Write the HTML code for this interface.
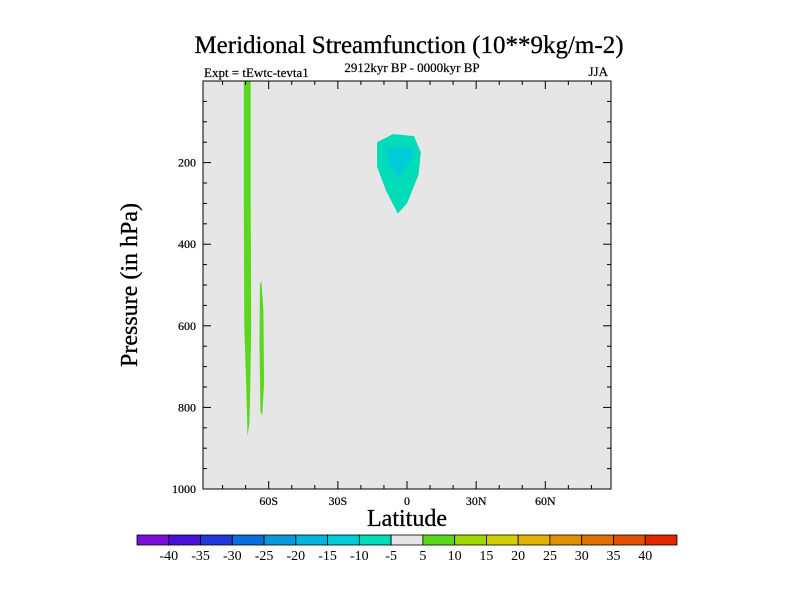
<!DOCTYPE html>
<html><head><meta charset="utf-8"><style>
body{margin:0;background:#fff}
svg{display:block;font-family:"Liberation Serif",serif}
</style></head><body>
<svg id="c" width="800" height="600" xmlns="http://www.w3.org/2000/svg">
<text x="409" y="53" font-size="25" text-anchor="middle" stroke="#000" stroke-width="0.3">Meridional Streamfunction (10**9kg/m-2)</text>
<text x="204" y="77" font-size="13" stroke="#000" stroke-width="0.2">Expt = tEwtc-tevta1</text>
<text x="412" y="72" font-size="13" text-anchor="middle" stroke="#000" stroke-width="0.2">2912kyr BP - 0000kyr BP</text>
<text x="608" y="76" font-size="13" text-anchor="end" stroke="#000" stroke-width="0.2">JJA</text>
<rect x="203" y="81" width="408" height="408" fill="#e6e6e6"/>
<g id="fills"></g>
<g id="axes"></g>
<text x="407" y="526" font-size="24" text-anchor="middle" stroke="#000" stroke-width="0.3">Latitude</text>
<text transform="translate(137,285) rotate(-90)" font-size="24" text-anchor="middle" stroke="#000" stroke-width="0.3">Pressure (in hPa)</text>
<g id="cbar"></g>
</svg>
<script>
const latMin=-88.5, latMax=88.5, pTop=0, pBot=1000;
const xTickVals=[-60,-30,0,30,60];
const xTickLabels=["60S","30S","0","30N","60N"];
const yTickVals=[200,400,600,800,1000];
const yTickLabels=["200","400","600","800","1000"];
const levels=["-40","-35","-30","-25","-20","-15","-10","-5","5","10","15","20","25","30","35","40"];
const levelColors=["#7a0fd8","#4a0fd8","#1f3ad8","#0a6edc","#0a98dc","#00b4dc","#00ccd8","#00dcb8","#e6e6e6","#5ad81e","#a0d800","#d0d000","#e0b400","#e09000","#e07000","#e05000","#e02800"];
// contour regions: [lat, pressure] vertices
const stripe1Lat=[-70.8,-67.8,-67.8,-67.6,-68.0,-68.4,-69.2,-69.4,-69.8,-70.6,-70.8];
const stripe1P=[0,0,300,600,760,840,870,820,740,600,300];
const stripe2Lat=[-63.8,-63.2,-62.3,-62.0,-62.8,-63.6,-64.0];
const stripe2P=[500,490,560,740,820,810,640];
const blobOuterLat=[-13,-6,3,6,5,0,-4,-9,-13,-13];
const blobOuterP=[150,130,135,175,230,300,325,270,210,175];
const blobInnerLat=[-9.6,3.4,1.5,-3.5,-7.5];
const blobInnerP=[162,165,195,238,205];
const X=v=>203+(v-latMin)/(latMax-latMin)*408;
const Y=v=>81+(v-pTop)/(pBot-pTop)*408;
const NS="http://www.w3.org/2000/svg";
function el(t,a,p){const e=document.createElementNS(NS,t);for(const k in a)e.setAttribute(k,a[k]);p.appendChild(e);return e;}
const fills=document.getElementById('fills');
function poly(la,pr,col,name){const pts=la.map((v,i)=>X(v)+","+Y(pr[i])).join(" ");
const e=el('polygon',{points:pts,fill:col},fills);

}
poly(stripe1Lat,stripe1P,"#5ad81e","contour-stripe-70s");
poly(stripe2Lat,stripe2P,"#5ad81e","contour-stripe-63s");
poly(blobOuterLat,blobOuterP,"#00dcb8","contour-blob-outer");
poly(blobInnerLat,blobInnerP,"#00ccd8","contour-blob-inner");
const ax=document.getElementById('axes');
const fr=el('rect',{x:203,y:81,width:408,height:408,fill:'none',stroke:'#000','stroke-width':1},ax);


for(let v=-80;v<=80;v+=10){const maj=v%30===0;const x=X(v);
el('line',{x1:x,x2:x,y1:489,y2:489-(maj?8:4),stroke:'#000'},ax);
el('line',{x1:x,x2:x,y1:81,y2:81+(maj?8:4),stroke:'#000'},ax);}
for(let p=50;p<1000;p+=50){const maj=p%200===0;const y=Y(p);
el('line',{x1:203,x2:203+(maj?8:4),y1:y,y2:y,stroke:'#000'},ax);
el('line',{x1:611,x2:611-(maj?8:4),y1:y,y2:y,stroke:'#000'},ax);}
xTickVals.forEach((v,i)=>{const t=el('text',{x:X(v),y:505,'font-size':12,'text-anchor':'middle',stroke:'#000','stroke-width':0.2},ax);t.textContent=xTickLabels[i];

});
yTickVals.forEach((v,i)=>{const t=el('text',{x:196,y:Y(v)+4,'font-size':12,'text-anchor':'end',stroke:'#000','stroke-width':0.2},ax);t.textContent=yTickLabels[i];

});
const cb=document.getElementById('cbar');
const bw=540/levelColors.length;
levelColors.forEach((c,i)=>{const r=el('rect',{x:137+i*bw,y:535,width:bw,height:10,fill:c,stroke:'#000','stroke-width':0.8},cb);

});
levels.forEach((l,i)=>{const t=el('text',{x:137+(i+1)*bw,y:560,'font-size':14,'text-anchor':'middle'},cb);t.textContent=l;

});
</script>
</body></html>
